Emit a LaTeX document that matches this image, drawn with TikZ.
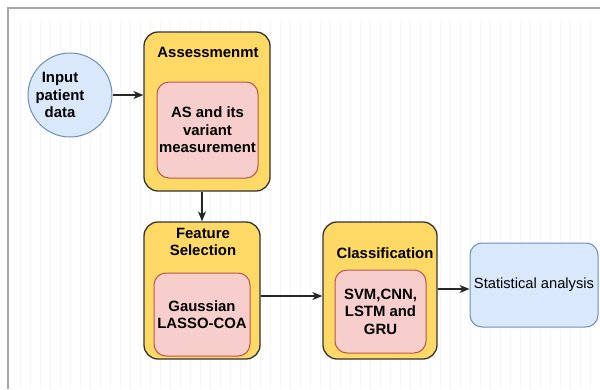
\documentclass[tikz,border=0pt]{standalone}
\usepackage{fontspec}
\setmainfont{Liberation Sans}
\usetikzlibrary{arrows.meta}
\definecolor{ylw}{HTML}{FFD966}
\definecolor{pinkf}{HTML}{F8CECC}
\definecolor{pinkd}{HTML}{B85450}
\definecolor{bluef}{HTML}{DAE8FC}
\definecolor{blued}{HTML}{6C8EBF}
\begin{document}
\begin{tikzpicture}[x=1pt,y=-1pt,
  txt/.style={font=\fontsize{14.7}{17.5}\selectfont},
  btxt/.style={font=\fontsize{14.9}{17.5}\selectfont\bfseries, align=center, inner sep=0},
  outer/.style={draw=black!80, fill=ylw, rounded corners=14pt, line width=1.3pt, inner sep=0},
  inner/.style={draw=pinkd, fill=pinkf, rounded corners=12pt, line width=1pt, inner sep=0, btxt},
  soft/.style={draw=blued, fill=bluef, line width=1pt},
  arr/.style={-{Stealth[length=10pt,width=8pt,inset=3pt]}, line width=1.1pt, draw=black!85}]
\useasboundingbox (0,0) rectangle (600,389);
\fill[white] (0,0) rectangle (600,389);
% faint canvas grid and frame
\draw[black!4, line width=0.5pt, step=10] (15,20) grid (600,389);
\draw[gray!70, line width=1.2pt] (8,389) -- (8,8) -- (600,8);

% input
\node[soft, circle, minimum size=84] (inp) at (70,95) {};
\node[btxt] (inptxt) at (60,95) {Input\\patient\\data};

% assessment
\node[outer, minimum width=126, minimum height=159] (assess) at (207,111.5) {};
\node[btxt] (assesst) at (208,52) {Assessmenmt};
\node[inner, minimum width=101, minimum height=96] (assessin) at (207.5,130) {AS and its\\variant\\measurement};

% feature selection
\node[outer, minimum width=116, minimum height=137] (feat) at (202,290.5) {};
\node[btxt] (featt) at (203,242) {Feature\\Selection};
\node[inner, minimum width=96, minimum height=83] (featin) at (202,314.5) {Gaussian\\LASSO-COA};

% classification
\node[outer, minimum width=114, minimum height=137] (cls) at (380,290.5) {};
\node[btxt] (clst) at (385,253) {Classification};
\node[inner, minimum width=91, minimum height=83] (clsin) at (380.5,311.5) {SVM,CNN,\\LSTM and\\GRU};

% result
\node[soft, rounded corners=12pt, minimum width=128, minimum height=84, txt] (stat) at (534,285) {Statistical analysis};

% connectors
\draw[arr] (inp.east) -- (inp.east -| assess.west);
\draw[arr] (assess.south -| feat.north) -- (feat.north);
\draw[arr] ([yshift=-5.5pt]feat.east) -- ([yshift=-5.5pt]feat.east -| cls.west);
\draw[arr] ([yshift=1.5pt]cls.east) -- ([yshift=1.5pt]cls.east -| stat.west);
\end{tikzpicture}
\end{document}
